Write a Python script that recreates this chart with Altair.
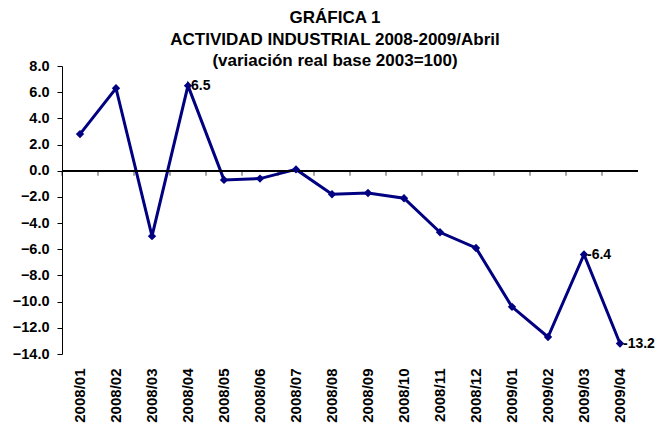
import altair as alt
import pandas as pd

months = ["2008/01", "2008/02", "2008/03", "2008/04", "2008/05", "2008/06", "2008/07", "2008/08",
          "2008/09", "2008/10", "2008/11", "2008/12", "2009/01", "2009/02", "2009/03", "2009/04"]
values = [2.8, 6.3, -5.0, 6.5, -0.7, -0.6, 0.1, -1.8, -1.7, -2.1, -4.7, -5.9, -10.4, -12.7, -6.4, -13.2]
label_months = ["2008/04", "2009/03", "2009/04"]
y_ticks = [-14, -12, -10, -8, -6, -4, -2, 0, 2, 4, 6, 8]
title_lines = ["GRÁFICA 1", "ACTIVIDAD INDUSTRIAL 2008-2009/Abril", "(variación real base 2003=100)"]

df = pd.DataFrame({"mes": months, "valor": values})
df["etiqueta"] = [f"{v:.1f}" if m in label_months else "" for m, v in zip(months, values)]

FONT = "Liberation Sans"
NAVY = "#000080"
W = 576
H = 288
BAND = W / len(months)

xscale = alt.Scale(domain=months, paddingInner=0, paddingOuter=0)
yscale = alt.Scale(domain=[-14, 8], nice=False, zero=False)

x_axis = alt.Axis(labelAngle=-90, domain=False, ticks=False, labelPadding=14,
                  labelFont=FONT, labelFontSize=15, labelFontWeight="bold",
                  labelColor="black", labelBaseline="middle", labelAlign="right",
                  labelOverlap=False)
y_axis = alt.Axis(values=y_ticks, format=".1f", grid=False, labelOverlap=False,
                  domainColor="black", tickColor="black", tickSize=5,
                  labelFont=FONT, labelFontSize=14.5, labelFontWeight="bold",
                  labelColor="black", labelPadding=8)

x_enc = alt.X("mes:N", scale=xscale, sort=months, title=None, axis=x_axis)
y_enc = alt.Y("valor:Q", scale=yscale, title=None, axis=y_axis)
y_zero = alt.Y(datum=0, scale=yscale, title=None, axis=y_axis)

base = alt.Chart(df)

line = base.mark_line(color=NAVY, strokeWidth=3).encode(x=x_enc, y=y_enc)
zero_line = base.mark_rule(color="black", strokeWidth=1).encode(
    x=alt.value(0), x2=alt.value(W), y=y_zero)
zero_ticks = base.mark_tick(color="black", thickness=1, size=5, orient="vertical",
                            xOffset=-BAND / 2, yOffset=2.5).encode(x=x_enc, y=y_zero)
pts = base.mark_point(shape="diamond", filled=True, color=NAVY, size=70, opacity=1).encode(
    x=x_enc, y=y_enc)
txt = base.mark_text(align="left", dx=3, dy=0, font=FONT, fontSize=14, fontWeight="bold",
                     color="black").encode(x=x_enc, y=y_enc, text="etiqueta:N")

chart = alt.layer(line, zero_line, zero_ticks, pts, txt).properties(
    width=W, height=H,
    autosize=alt.AutoSizeParams(type="none"),
    title=alt.TitleParams(title_lines, font=FONT, fontSize=17, fontWeight="bold",
                          color="black", anchor="middle", lineHeight=21.5, offset=-12, dx=-15),
    padding={"left": 54, "top": 58, "right": 17, "bottom": 80},
).configure_view(stroke=None)

chart.save("out.html", embed_options={"renderer": "svg", "actions": False})
